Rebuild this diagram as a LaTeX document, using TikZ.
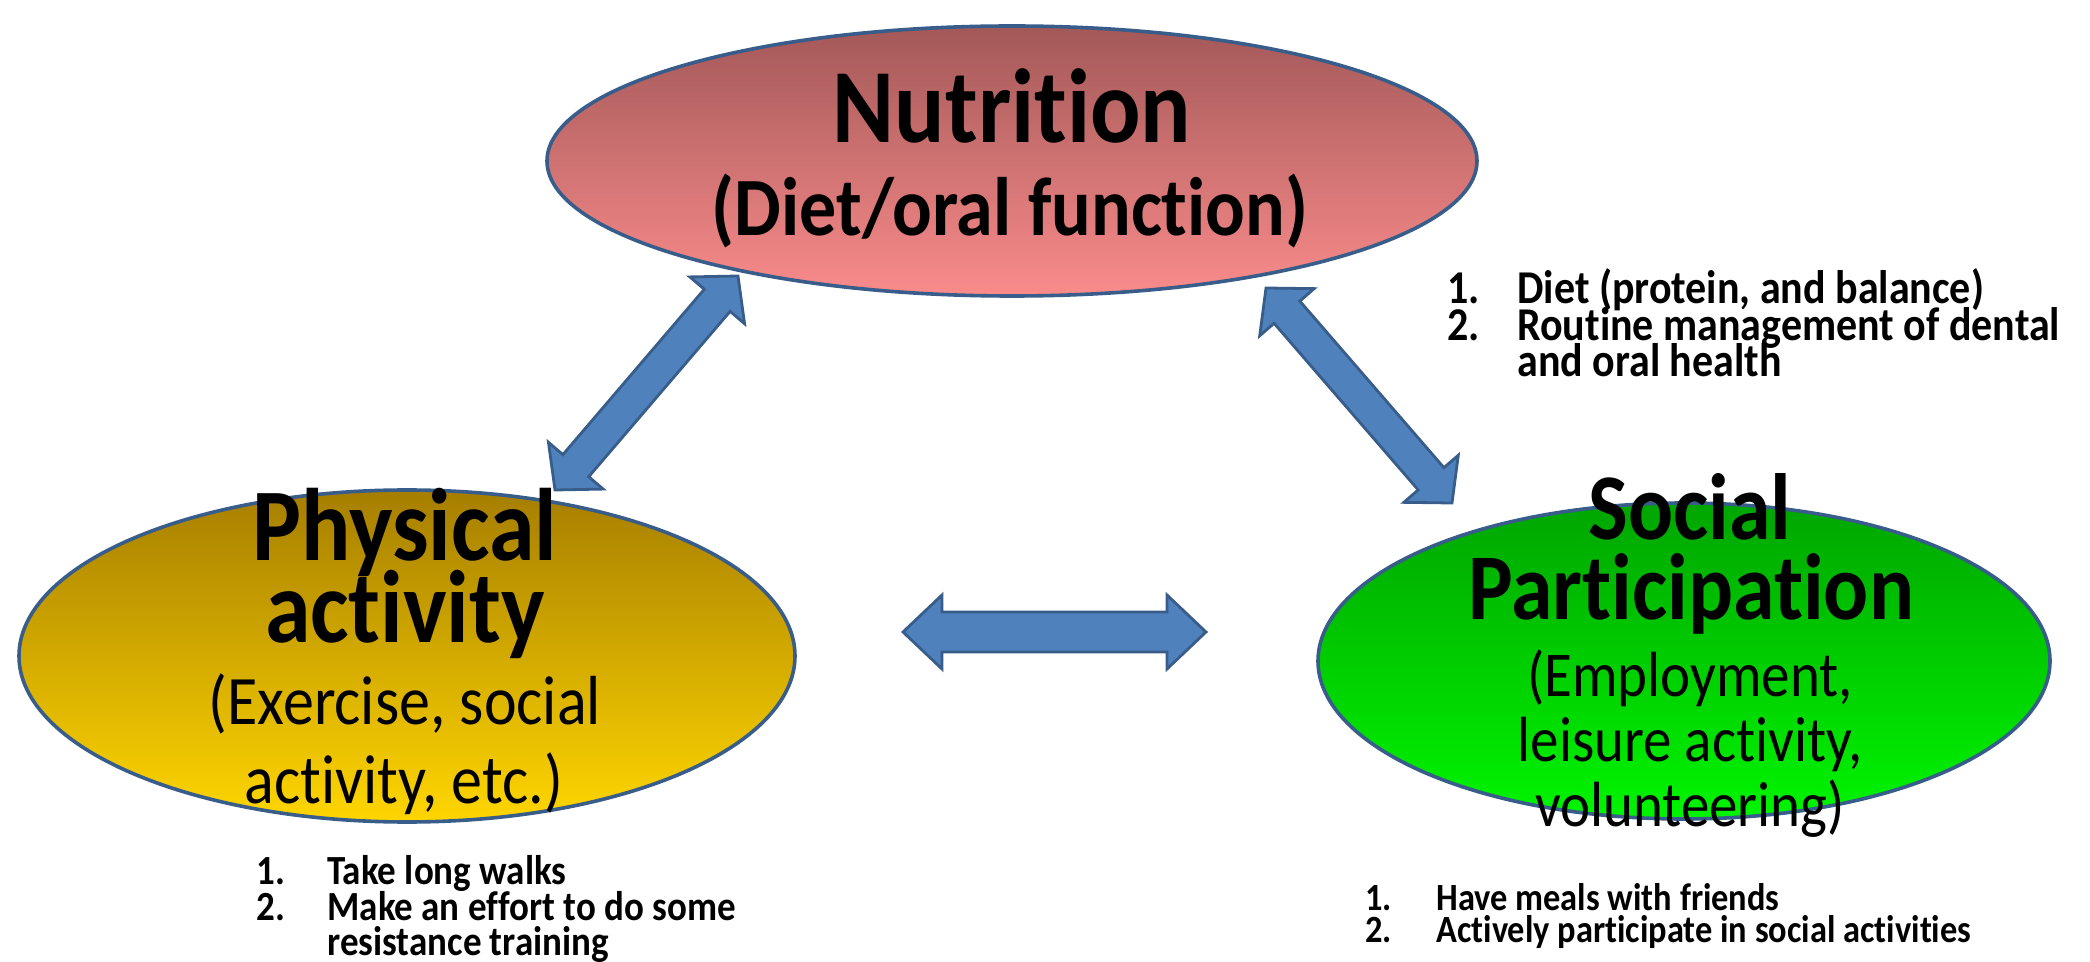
\documentclass[tikz,border=0pt]{standalone}
\usepackage{fontspec}
\usepackage{graphicx}
\setmainfont{Carlito}[RawFeature=-liga, RawFeature=-clig, RawFeature=-calt, RawFeature=-dlig]
\usetikzlibrary{shapes.geometric,calc}
\definecolor{edgeblue}{RGB}{56,93,138}
\definecolor{arrowfill}{RGB}{79,129,189}
\definecolor{nutTop}{RGB}{163,88,88}
\definecolor{nutBot}{RGB}{250,139,139}
\definecolor{phyTop}{RGB}{166,126,0}
\definecolor{phyBot}{RGB}{255,214,0}
\definecolor{socTop}{RGB}{0,165,0}
\definecolor{socBot}{RGB}{0,245,0}
\newcommand\vstretch[1]{\scalebox{1}[1.12]{#1}}
\tikzset{
  oval/.style={ellipse, draw=edgeblue, line width=1.8pt, inner sep=0pt, outer sep=0pt},
  bigtitle/.style={anchor=base, inner sep=0pt, font={\fontsize{#1}{#1}\selectfont\bfseries}},
  subtitle/.style={anchor=base, inner sep=0pt, font={\fontsize{#1}{#1}\selectfont}},
  listitem/.style={anchor=base west, inner sep=0pt, font={\fontsize{#1}{#1}\selectfont\bfseries}},
  blockarrowstyle/.style={draw=edgeblue, fill=arrowfill, line width=1.4pt, line join=miter}
}
% double block arrow between two named coordinates
% #1 from, #2 to, #3 head length, #4 head half width, #5 shaft half width
\newcommand\dblblock[5]{%
  \coordinate (#1-b) at ($(#1)!#3!(#2)$);
  \coordinate (#2-b) at ($(#2)!#3!(#1)$);
  \draw[blockarrowstyle] (#1)
    -- ($(#1-b)!#4!90:(#2)$) -- ($(#1-b)!#5!90:(#2)$)
    -- ($(#2-b)!#5!-90:(#1)$) -- ($(#2-b)!#4!-90:(#1)$)
    -- (#2)
    -- ($(#2-b)!#4!90:(#1)$) -- ($(#2-b)!#5!90:(#1)$)
    -- ($(#1-b)!#5!-90:(#2)$) -- ($(#1-b)!#4!-90:(#2)$)
    -- cycle;}
\begin{document}
\begin{tikzpicture}[x=0.5pt,y=-0.5pt]
\useasboundingbox (0,0) rectangle (2090,962);
% ellipses
\node[oval, top color=nutTop, bottom color=nutBot, minimum width=465pt, minimum height=135pt] (nut) at (1012,161) {};
\node[oval, top color=phyTop, bottom color=phyBot, minimum width=388pt, minimum height=166pt] (phy) at (407,656) {};
\node[oval, top color=socTop, bottom color=socBot, minimum width=366pt, minimum height=158pt] (soc) at (1684,661) {};
% arrows
\coordinate (a1) at (738,276);
\coordinate (a2) at (555,490);
\coordinate (b1) at (1266,288);
\coordinate (b2) at (1452,503);
\coordinate (c1) at (903,632);
\coordinate (c2) at (1206,632);
\dblblock{a1}{a2}{16pt}{18pt}{8.5pt}
\dblblock{b1}{b2}{16pt}{18pt}{8.5pt}
\dblblock{c1}{c2}{19.5pt}{18.5pt}{10pt}
% titles
\node[bigtitle=47] (nutT) at (1012,143) {\vstretch{Nutrition}};
\node[bigtitle=37] (nutS) at (1010,236) {\vstretch{(Diet/oral function)}};
\node[bigtitle=46] (phyT1) at (405,561) {\vstretch{Physical}};
\node[bigtitle=46] (phyT2) at (405,643) {\vstretch{activity}};
\node[subtitle=31] (phyS1) at (405,724) {\vstretch{(Exercise, social}};
\node[subtitle=31] (phyS2) at (404,803) {\vstretch{activity, etc.)}};
\node[bigtitle=42] (socT1) at (1690,540) {\vstretch{Social}};
\node[bigtitle=42] (socT2) at (1691,620) {\vstretch{Participation}};
\node[subtitle=28.5] (socS1) at (1690,697) {\vstretch{(Employment,}};
\node[subtitle=28.5] (socS2) at (1690,762) {\vstretch{leisure activity,}};
\node[subtitle=28.5] (socS3) at (1690,826) {\vstretch{volunteering)}};
% nutrition list
\node[listitem=21] (n1) at (1447,304) {\vstretch{1.}};
\node[listitem=21] (n1t) at (1517,304) {\vstretch{Diet (protein, and balance)}};
\node[listitem=21] (n2) at (1447,341) {\vstretch{2.}};
\node[listitem=21] (n2t) at (1517,341) {\vstretch{Routine management of dental}};
\node[listitem=21] (n3t) at (1517,377) {\vstretch{and oral health}};
% physical list
\node[listitem=18.5] (p1) at (256,884) {\vstretch{1.}};
\node[listitem=18.5] (p1t) at (327,884) {\vstretch{Take long walks}};
\node[listitem=18.5] (p2) at (256,920) {\vstretch{2.}};
\node[listitem=18.5] (p2t) at (327,920) {\vstretch{Make an effort to do some}};
\node[listitem=18.5] (p3t) at (327,955) {\vstretch{resistance training}};
% social list
\node[listitem=17.2] (s1) at (1365,910) {\vstretch{1.}};
\node[listitem=17.2] (s1t) at (1436,910) {\vstretch{Have meals with friends}};
\node[listitem=17.2] (s2) at (1365,942) {\vstretch{2.}};
\node[listitem=17.2] (s2t) at (1436,942) {\vstretch{Actively participate in social activities}};
\end{tikzpicture}
\end{document}
